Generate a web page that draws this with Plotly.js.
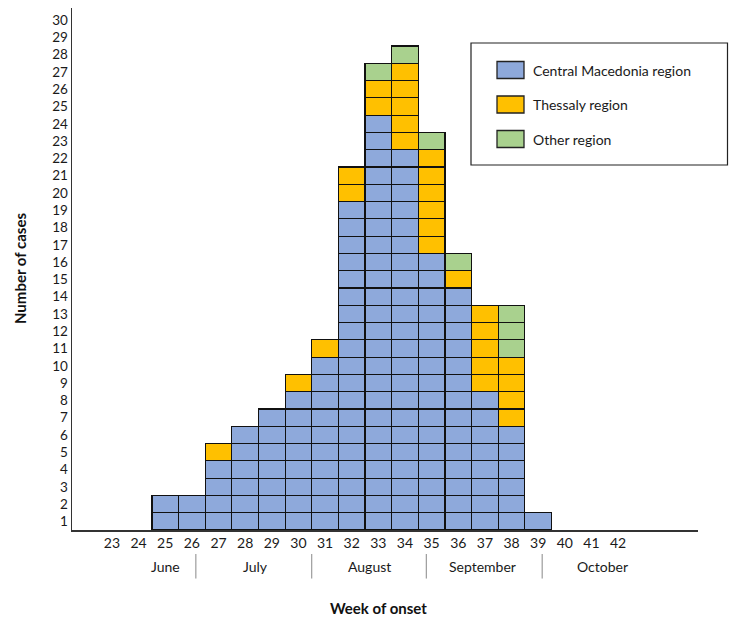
<!DOCTYPE html>
<html>
<head>
<meta charset="utf-8">
<script src="https://cdn.plot.ly/plotly-3.0.1.min.js"></script>
<style>html,body{margin:0;padding:0;background:#fff;}#chart{width:738px;height:626px;}</style>
</head>
<body>
<div id="chart"></div>
<script>
// ---- data ----
const weeks = [23,24,25,26,27,28,29,30,31,32,33,34,35,36,37,38,39,40,41,42];
const centralMacedonia = [0,0,2,2,4,6,7,8,10,19,24,22,16,14,8,6,1,0,0,0];
const thessaly         = [0,0,0,0,1,0,0,1,1,2,2,5,6,1,5,4,0,0,0,0];
const otherRegion      = [0,0,0,0,0,0,0,0,0,0,1,1,1,1,0,3,0,0,0,0];
const seriesNames = ['Central Macedonia region','Thessaly region','Other region'];
const months = ['June','July','August','September','October'];
const yTickLabels = Array.from({length:30},(_,i)=>String(i+1));

// ---- build traces (one unit square per case) ----
const seriesValues = [centralMacedonia, thessaly, otherRegion];
const colors = ['#8EA9DB','#FFC000','#A9D18E'];
const traces = [];
seriesValues.forEach((vals, s) => {
  const mx = Math.max(...vals);
  for (let j = 1; j <= mx; j++) {
    traces.push({
      type:'bar', x: weeks, y: vals.map(v => v >= j ? 1 : null),
      name: seriesNames[s], legendgroup: seriesNames[s], showlegend: false,
      marker:{color: colors[s], line:{color:'#111', width:1.2}},
      width: 1, hoverinfo:'skip'
    });
  }
});

const monthPos = [25.0, 28.4, 32.65, 36.9, 41.4];
const sepPos = [26.15, 30.5, 34.8, 39.15];
const font = 'Lato, "Open Sans", sans-serif';
const px = v => (v - 72) / 626;
const py = v => (530 - v) / 522;

const annotations = months.map((m,i)=>({
  text:m, x:monthPos[i], xref:'x', y:-0.069, yref:'paper', showarrow:false,
  font:{family:font, size:14, color:'#1a1a1a'}, xanchor:'center', yanchor:'middle'
}));
annotations.push({text:'<b>Week of onset</b>', x:0.49, xref:'paper', y:-0.149, yref:'paper',
  showarrow:false, font:{family:font, size:15, color:'#111'}, xanchor:'center', yanchor:'middle'});
annotations.push({text:'<b>Number of cases</b>', x:-0.083, xref:'paper', y:0.5, yref:'paper', textangle:-90,
  showarrow:false, font:{family:font, size:15, color:'#111'}, xanchor:'center', yanchor:'middle'});

const shapes = sepPos.map(p=>({type:'line', xref:'x', yref:'paper', x0:p, x1:p, y0:-0.046, y1:-0.093,
  line:{color:'#888', width:1}}));
// legend box
shapes.push({type:'rect', xref:'paper', yref:'paper', x0:px(471), x1:px(727.5), y0:py(165), y1:py(43),
  line:{color:'#222', width:1.2}, fillcolor:'rgba(0,0,0,0)'});
// legend entries
const legendY = [70, 104.5, 139];
seriesNames.forEach((n,i)=>{
  shapes.push({type:'rect', xref:'paper', yref:'paper', x0:px(497), x1:px(524), y0:py(legendY[i]+8.5), y1:py(legendY[i]-8.5),
    line:{color:'#222', width:1.3}, fillcolor:colors[i]});
  annotations.push({text:n, xref:'paper', yref:'paper', x:px(531), y:py(legendY[i]), xanchor:'left', yanchor:'middle',
    showarrow:false, font:{family:font, size:14, color:'#1a1a1a'}});
});

const layout = {
  width:738, height:626,
  margin:{l:72, r:40, t:8, b:96},
  paper_bgcolor:'#fff', plot_bgcolor:'#fff',
  barmode:'stack', bargap:0,
  showlegend:false,
  xaxis:{range:[21.5,45], tickmode:'array', tickvals:weeks, ticktext:weeks.map(String),
    showline:true, linecolor:'#333', linewidth:1.5, ticks:'', showgrid:false, zeroline:false,
    tickfont:{family:font, size:14, color:'#1a1a1a'}, fixedrange:true},
  yaxis:{range:[0,30.2], tickmode:'array', tickvals:yTickLabels.map((_,i)=>i+0.5), ticktext:yTickLabels,
    showline:true, linecolor:'#333', linewidth:1.5, ticks:'', showgrid:false, zeroline:false,
    tickfont:{family:font, size:13.5, color:'#1a1a1a'}, fixedrange:true},
  annotations, shapes
};
Plotly.newPlot('chart', traces, layout, {displayModeBar:false, staticPlot:true});
</script>
</body>
</html>
